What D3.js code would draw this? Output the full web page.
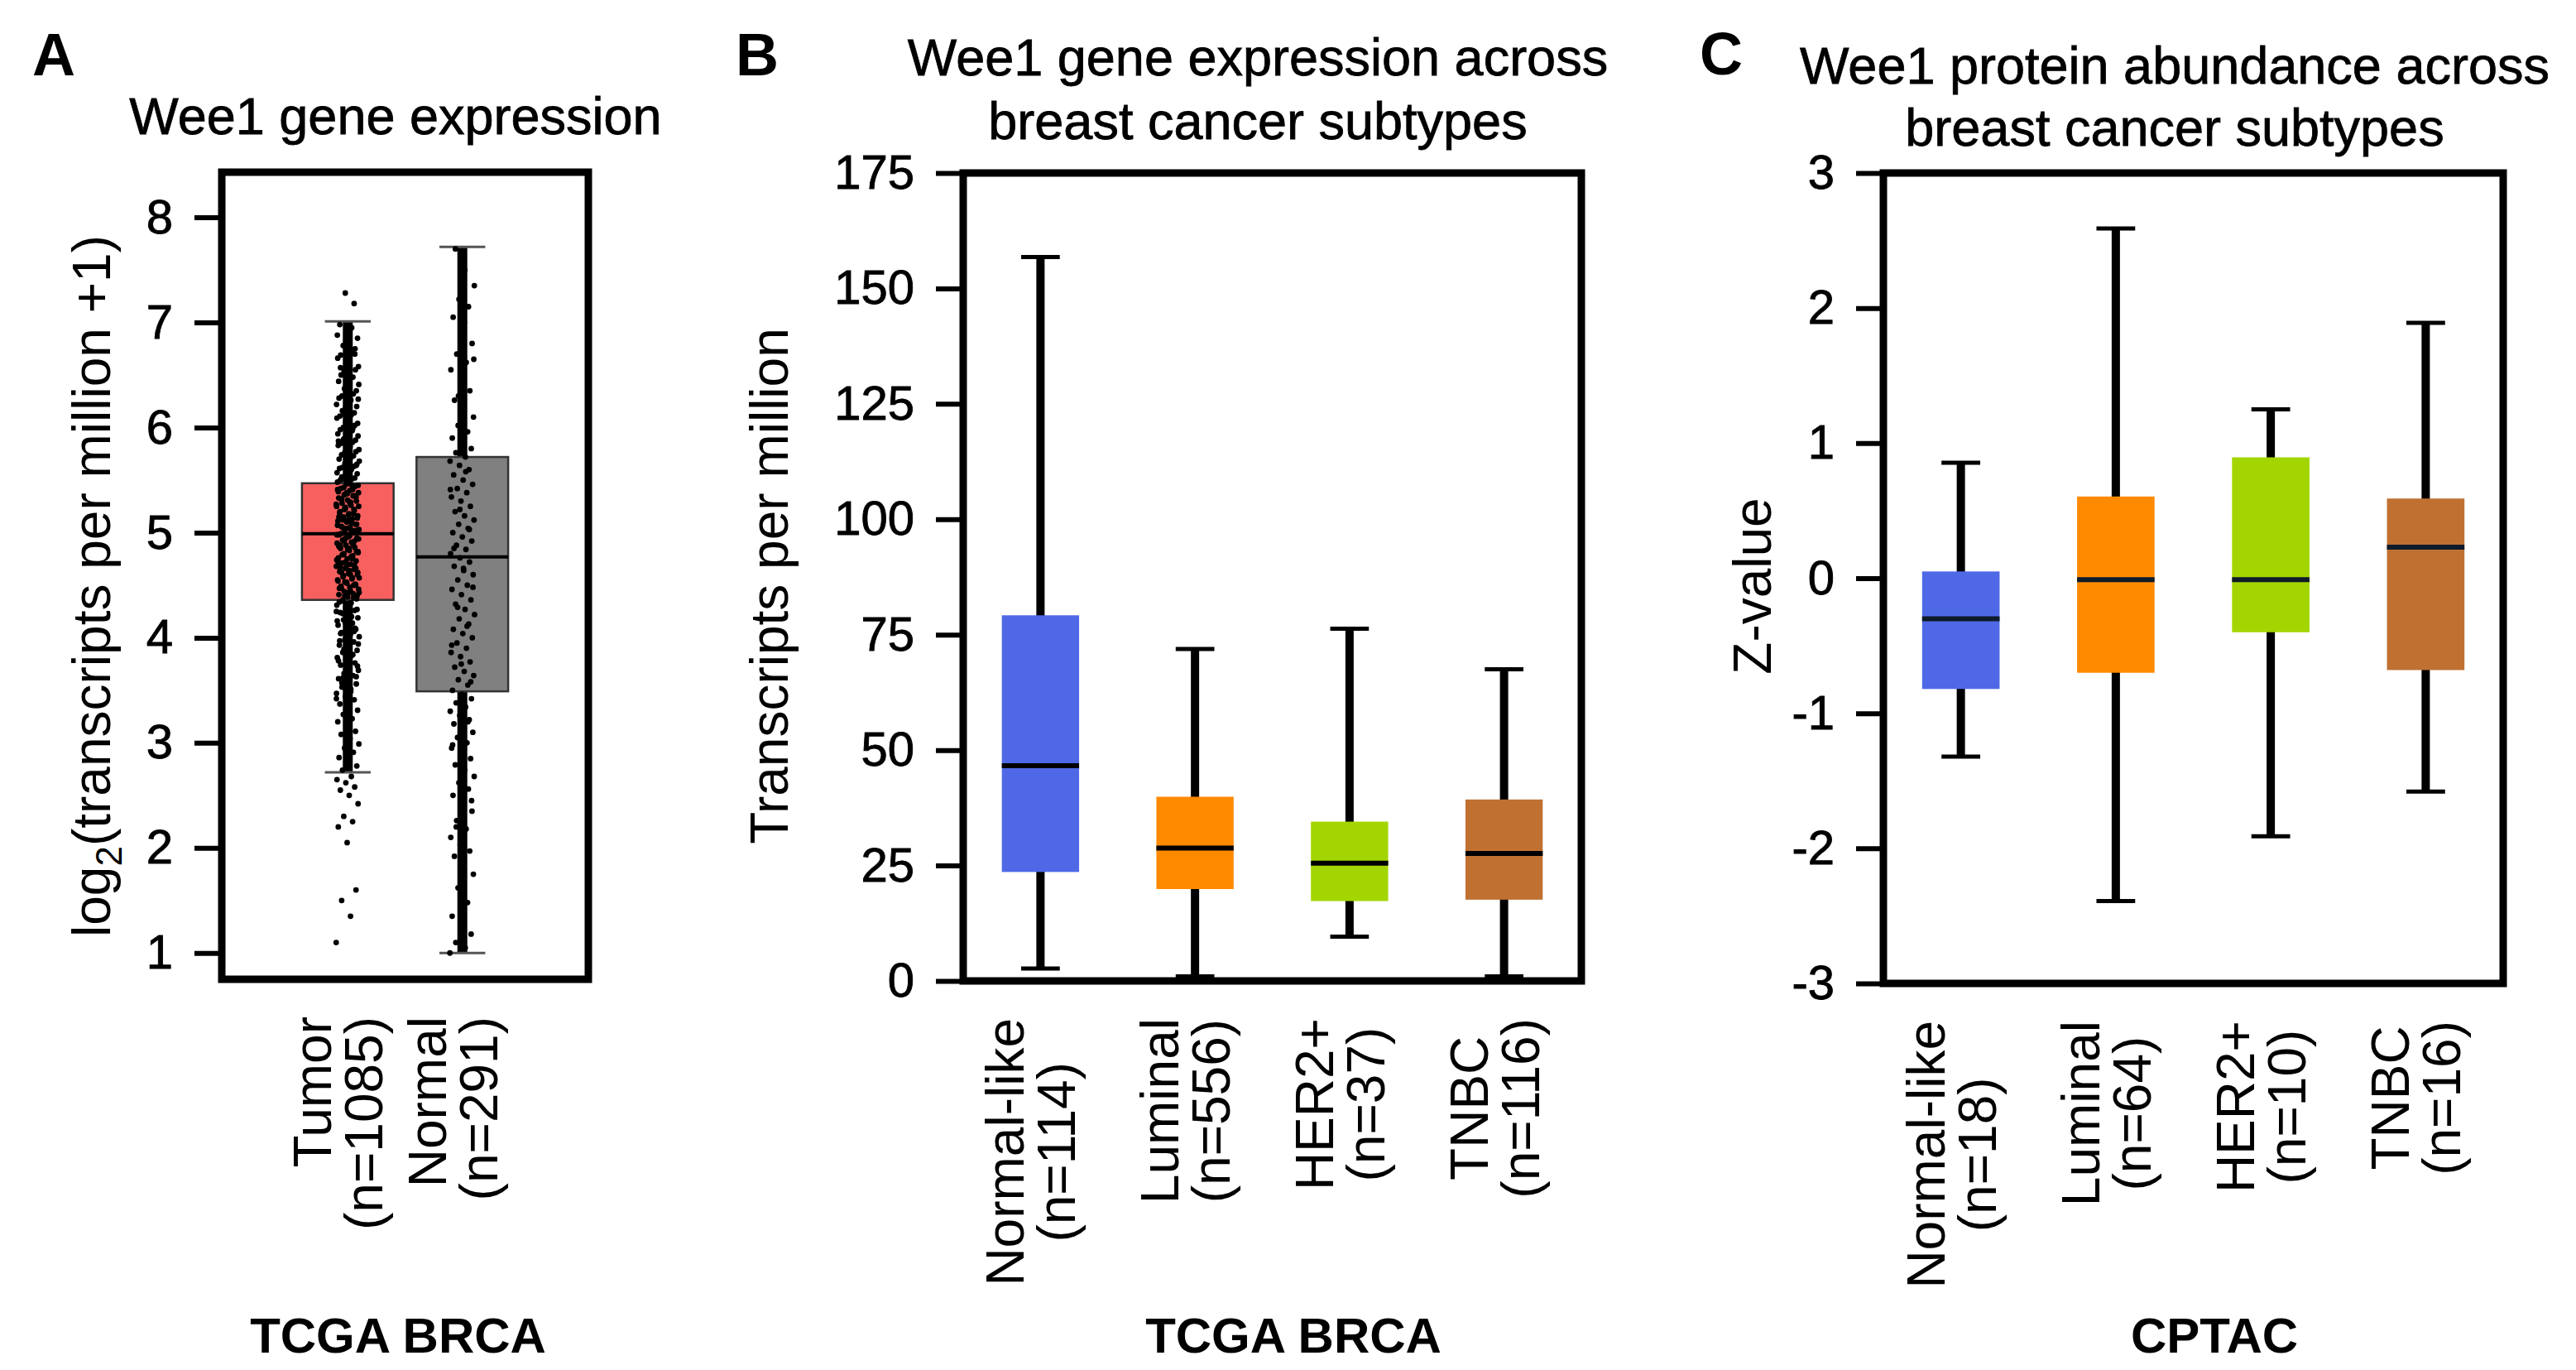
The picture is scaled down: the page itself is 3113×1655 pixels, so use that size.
<!DOCTYPE html>
<html>
<head>
<meta charset="utf-8">
<script src="https://cdn.jsdelivr.net/npm/d3@7"></script>
<style>
body { margin: 0; background: #fff; }
text { font-family: "Liberation Sans", Arial, Helvetica, sans-serif; fill: #000; }
</style>
</head>
<body>
<svg id="chart"></svg>
<script>
// ### Data ###
// panel A : TCGA BRCA tumor vs normal, log2(TPM+1)
var groupsA = ['Tumor', 'Normal'];
var countsA = ['(n=1085)', '(n=291)'];
var lowA  = [2.72, 1.00];
var q1A   = [4.36, 3.49];
var medA  = [4.99, 4.77];
var q3A   = [5.47, 5.72];
var highA = [7.01, 7.72];
var ticksA = [1, 2, 3, 4, 5, 6, 7, 8];

// individual samples
var tumorPoints = [1.1, 1.35, 1.5, 1.6, 2.05, 2.2, 2.25, 2.3, 2.42, 2.5, 2.55, 2.58, 2.62, 2.65, 2.68,
  2.74, 2.78, 2.83, 2.86, 2.91, 2.95, 2.99, 3.04, 3.08, 3.11, 3.16, 3.2, 3.23, 3.27, 3.31, 3.34, 3.37, 3.41, 3.44, 3.47,
  3.51, 3.53, 3.56, 3.59, 3.61, 3.64, 3.66, 3.69, 3.71, 3.74, 3.76, 3.79, 3.81, 3.83, 3.86, 3.88, 3.91, 3.93, 3.96, 3.98,
  4.01, 4.03, 4.05, 4.08, 4.1, 4.12, 4.14, 4.17, 4.19, 4.21, 4.24, 4.26, 4.28, 4.31, 4.33, 4.35,
  4.37, 4.39, 4.41, 4.42, 4.44, 4.46, 4.48, 4.49, 4.51, 4.53, 4.55, 4.56, 4.58, 4.6, 4.61, 4.63, 4.65, 4.66, 4.68, 4.7,
  4.71, 4.73, 4.75, 4.76, 4.78, 4.8, 4.81, 4.83, 4.85, 4.86, 4.88, 4.9, 4.91, 4.93, 4.95, 4.96, 4.98, 5.0, 5.01, 5.03,
  5.05, 5.06, 5.08, 5.1, 5.11, 5.13, 5.15, 5.16, 5.18, 5.2, 5.21, 5.23, 5.25, 5.26, 5.28, 5.3, 5.31, 5.33, 5.35, 5.36,
  5.38, 5.4, 5.42, 5.44, 5.46,
  5.48, 5.51, 5.53, 5.56, 5.58, 5.61, 5.63, 5.66, 5.68, 5.71, 5.74, 5.77, 5.8, 5.83, 5.86, 5.89, 5.92, 5.95, 5.98, 6.02,
  6.05, 6.09, 6.12, 6.16, 6.2, 6.24, 6.28, 6.32, 6.37, 6.41, 6.46, 6.5, 6.55, 6.6, 6.66, 6.72, 6.78, 6.85, 6.92, 6.98,
  7.18, 7.28,
  3.42, 3.49, 3.57, 3.63, 3.7, 3.78, 3.84, 3.89, 3.94, 3.99, 4.04, 4.09, 4.13, 4.16, 4.2, 4.23, 4.27, 4.3, 4.34, 4.38,
  4.4, 4.43, 4.45, 4.47, 4.5, 4.52, 4.54, 4.57, 4.59, 4.62, 4.64, 4.67, 4.69, 4.72, 4.74, 4.77, 4.79, 4.82, 4.84, 4.87,
  4.89, 4.92, 4.94, 4.97, 4.99, 5.02, 5.04, 5.07, 5.09, 5.12, 5.14, 5.17, 5.19, 5.22, 5.24, 5.27, 5.29, 5.32, 5.34, 5.37,
  5.39, 5.41, 5.43, 5.45, 5.47, 5.5, 5.52, 5.55, 5.57, 5.6, 5.62, 5.65, 5.67, 5.7, 5.73, 5.76, 5.79, 5.82, 5.85, 5.88,
  5.91, 5.94, 5.97, 6.0, 6.04, 6.07, 6.11, 6.14, 6.18, 6.22, 6.26, 6.3, 6.35, 6.39, 6.44, 6.48, 6.53, 6.58, 6.63, 6.69,
  6.75, 6.81, 6.88, 6.95,
  4.36, 4.4, 4.43, 4.47, 4.5, 4.53, 4.57, 4.6, 4.62, 4.66, 4.69, 4.72, 4.75, 4.79, 4.82, 4.85, 4.88, 4.92, 4.95, 4.98,
  5.02, 5.05, 5.08, 5.12, 5.15, 5.18, 5.22, 5.25, 5.28, 5.32, 5.35, 5.38, 5.41, 5.45, 3.62, 3.73, 3.85, 3.97, 4.06, 4.15,
  4.25, 4.33, 5.53, 5.64, 5.75, 5.87, 5.99, 6.13, 6.27, 6.42, 6.57, 6.7, 6.84];
var normalPoints = [1.0, 1.05, 1.1, 1.18, 1.25, 1.35, 1.48, 1.62, 1.75, 1.88, 1.92, 1.97, 2.03, 2.1, 2.18, 2.26, 2.35,
  2.42, 2.5, 2.56, 2.62, 2.68, 2.74, 2.79, 2.85, 2.9, 2.95, 3.0, 3.05, 3.1, 3.14, 3.18, 3.22, 3.26, 3.3, 3.34, 3.38,
  3.42, 3.46, 3.5, 3.55, 3.6, 3.64, 3.68, 3.72, 3.77, 3.82, 3.86, 3.9, 3.95, 4.0, 4.04, 4.08, 4.13, 4.18, 4.22, 4.27,
  4.32, 4.36, 4.41, 4.46, 4.5, 4.55, 4.6, 4.64, 4.68, 4.72, 4.76, 4.8, 4.84, 4.88, 4.92, 4.96, 5.0, 5.04, 5.08, 5.12,
  5.16, 5.2, 5.25, 5.3, 5.34, 5.38, 5.42, 5.46, 5.5, 5.55, 5.6, 5.64, 5.68, 5.72, 5.76, 5.8, 5.85, 5.9, 5.96, 6.02,
  6.1, 6.18, 6.26, 6.35, 6.45, 6.55, 6.62, 6.7, 6.8, 6.92, 7.05, 7.15, 7.22, 7.35, 7.5, 7.7,
  3.58, 3.75, 3.93, 4.11, 4.29, 4.48, 4.66, 4.85, 5.03, 5.22, 5.41, 5.58, 2.2, 2.45, 2.7, 2.98, 3.2, 6.3, 6.65, 7.0];

// panels B and C : subtypes
var subtypes = ['Normal-like', 'Luminal', 'HER2+', 'TNBC'];
var subtypeColors = ['#4f69e6', '#ff8a00', '#a3d600', '#c07031'];

var countsB = ['(n=114)', '(n=556)', '(n=37)', '(n=116)'];
var lowB  = [2.7, 1.0, 9.6, 1.0];
var q1B   = [23.6, 19.9, 17.3, 17.6];
var medB  = [46.6, 28.8, 25.5, 27.6];
var q3B   = [79.2, 39.9, 34.5, 39.3];
var highB = [156.8, 71.9, 76.3, 67.5];
var ticksB = [0, 25, 50, 75, 100, 125, 150, 175];

var countsC = ['(n=18)', '(n=64)', '(n=10)', '(n=16)'];
var lowC  = [-1.32, -2.39, -1.91, -1.58];
var q1C   = [-0.82, -0.70, -0.40, -0.68];
var medC  = [-0.30, -0.01, -0.01, 0.23];
var q3C   = [0.05, 0.605, 0.895, 0.59];
var highC = [0.855, 2.59, 1.25, 1.89];
var ticksC = [-3, -2, -1, 0, 1, 2, 3];

// ### Canvas ###
var width = 3113, height = 1655;
var FONT = '"Liberation Sans", Arial, Helvetica, sans-serif';
var svg = d3.select('#chart').attr('width', width).attr('height', height);
svg.append('rect').attr('width', width).attr('height', height).attr('fill', '#fff');

// ### Helpers ###
function drawYAxis(box, y, ticks) {
  var g = svg.append('g')
    .attr('transform', `translate(${box.left},0)`)
    .call(d3.axisLeft(y).tickValues(ticks).tickSize(33).tickPadding(26).tickFormat(d => String(d)));
  g.attr('font-size', 58).attr('font-family', FONT);
  g.select('.domain').remove();
  g.selectAll('.tick line').attr('stroke', '#000').attr('stroke-width', 6);
  g.selectAll('.tick text').attr('fill', '#000').attr('stroke', '#000').attr('stroke-width', 0.9);
}

function drawFrame(box) {
  svg.append('rect')
    .attr('x', box.left).attr('y', box.top)
    .attr('width', box.right - box.left).attr('height', box.bottom - box.top)
    .attr('fill', 'none').attr('stroke', '#000').attr('stroke-width', 9);
}

function drawText(p) {
  // panel letter
  svg.append('text').attr('x', p.letter[0]).attr('y', p.letter[1])
    .attr('font-size', 72).attr('font-weight', 'bold').text(p.name);
  // title
  svg.selectAll(null).data(p.title).enter().append('text')
    .attr('x', p.titleX).attr('y', (d, i) => p.titleY[i])
    .attr('text-anchor', 'middle').attr('font-size', 63)
    .attr('stroke', '#000').attr('stroke-width', 0.8)
    .text(d => d);
  // footer
  svg.append('text').attr('x', p.footerX).attr('y', 1634)
    .attr('text-anchor', 'middle').attr('font-size', 60).attr('font-weight', 'bold').text(p.footer);
}

// two-line rotated category labels
function drawXLabels(x, names, counts, top, centered) {
  names.forEach(function(name, i) {
    var g = svg.append('g').attr('transform', `translate(${x(name)},${top}) rotate(-90)`);
    var lines = [name, counts[i]];
    var t = g.selectAll('text').data(lines).enter().append('text')
      .attr('y', (d, j) => j === 0 ? -20 : 42)
      .attr('font-size', 64)
      .text(d => d);
    if (centered) {
      var L = d3.max(t.nodes(), n => n.getComputedTextLength());
      t.attr('x', -L / 2).attr('text-anchor', 'middle');
    } else {
      t.attr('x', 0).attr('text-anchor', 'end');
    }
  });
}

function drawYLabel(bx, cy, fn) {
  var t = svg.append('text')
    .attr('transform', `translate(${bx},${cy}) rotate(-90)`)
    .attr('text-anchor', 'middle').attr('font-size', 64);
  fn(t);
}

// ### Panel A ###
var boxA = {left: 268, right: 711, top: 208, bottom: 1183};
var yA = d3.scaleLinear().domain([0.75, 8.43]).range([boxA.bottom, boxA.top]);
var xA = d3.scalePoint().domain(groupsA).range([boxA.left, boxA.right]).padding(1.1);
var stepA = xA.step();
var fillA = ['#f8605f', '#808080'];
var pointSets = [tumorPoints, normalPoints];
var jitterA = [28, 30];

groupsA.forEach(function(gname, i) {
  var cx = xA(gname);
  // dense whisker strip
  svg.append('line')
    .attr('x1', cx).attr('x2', cx)
    .attr('y1', yA(lowA[i])).attr('y2', yA(highA[i]))
    .attr('stroke', '#000').attr('stroke-width', 12);
  svg.append('rect')
    .attr('x', cx - stepA * 0.4).attr('width', stepA * 0.8)
    .attr('y', yA(q3A[i])).attr('height', yA(q1A[i]) - yA(q3A[i]))
    .attr('fill', fillA[i]).attr('stroke', '#333').attr('stroke-width', 2.5);
  svg.append('line')
    .attr('x1', cx - stepA * 0.4).attr('x2', cx + stepA * 0.4)
    .attr('y1', yA(medA[i])).attr('y2', yA(medA[i]))
    .attr('stroke', '#000').attr('stroke-width', 4);
  svg.selectAll(null).data([lowA[i], highA[i]]).enter().append('line')
    .attr('x1', cx - stepA * 0.2).attr('x2', cx + stepA * 0.2)
    .attr('y1', d => yA(d)).attr('y2', d => yA(d))
    .attr('stroke', '#555').attr('stroke-width', 3);
  svg.selectAll(null).data(pointSets[i]).enter().append('circle')
    .attr('cx', (d, j) => cx + (((j * 0.6180339) % 1) - 0.5) * jitterA[i])
    .attr('cy', d => yA(d))
    .attr('r', 3.4)
    .attr('fill', '#000');
});
drawYAxis(boxA, yA, ticksA);
drawFrame(boxA);
drawXLabels(xA, groupsA, countsA, 1228, false);
drawYLabel(133, 708, function(t) {
  t.append('tspan').text('log');
  t.append('tspan').attr('font-size', 44).attr('dy', 14).text('2');
  t.append('tspan').attr('dy', -14).text('(transcripts per million +1)');
});
drawText({name: 'A', letter: [39, 91], title: ['Wee1 gene expression'], titleX: 478, titleY: [162],
  footer: 'TCGA BRCA', footerX: 481});

// ### Panels B and C ###
function subtypePanel(box, y, low, q1, med, q3, high, medColor) {
  var x = d3.scaleBand().domain(subtypes).range([box.left, box.right]).padding(0);
  var bw = x.bandwidth();
  subtypes.forEach(function(s, i) {
    var cx = x(s) + bw / 2;
    svg.append('line')
      .attr('x1', cx).attr('x2', cx)
      .attr('y1', y(low[i])).attr('y2', y(high[i]))
      .attr('stroke', '#000').attr('stroke-width', 10);
    svg.selectAll(null).data([low[i], high[i]]).enter().append('line')
      .attr('x1', cx - bw * 0.125).attr('x2', cx + bw * 0.125)
      .attr('y1', d => y(d)).attr('y2', d => y(d))
      .attr('stroke', '#000').attr('stroke-width', 5);
    svg.append('rect')
      .attr('x', cx - bw * 0.25).attr('width', bw * 0.5)
      .attr('y', y(q3[i])).attr('height', y(q1[i]) - y(q3[i]))
      .attr('fill', subtypeColors[i]);
    svg.append('line')
      .attr('x1', cx - bw * 0.25).attr('x2', cx + bw * 0.25)
      .attr('y1', y(med[i])).attr('y2', y(med[i]))
      .attr('stroke', medColor).attr('stroke-width', 6);
  });
  // center-of-band accessor for labels
  return d => x(d) + bw / 2;
}

var boxB = {left: 1164, right: 1911, top: 209, bottom: 1185};
var yB = d3.scaleLinear().domain([0, 175]).range([boxB.bottom, boxB.top]);
var xB = subtypePanel(boxB, yB, lowB, q1B, medB, q3B, highB, '#000');
drawYAxis(boxB, yB, ticksB);
drawFrame(boxB);
drawXLabels(xB, subtypes, countsB, 1230, true);
drawYLabel(952, 708, t => t.text('Transcripts per million'));
drawText({name: 'B', letter: [889, 91], title: ['Wee1 gene expression across', 'breast cancer subtypes'],
  titleX: 1520, titleY: [91, 168], footer: 'TCGA BRCA', footerX: 1563});

var boxC = {left: 2276, right: 3025, top: 209, bottom: 1188};
var yC = d3.scaleLinear().domain([-3, 3]).range([boxC.bottom, boxC.top]);
var xC = subtypePanel(boxC, yC, lowC, q1C, medC, q3C, highC, '#0d1b2a');
drawYAxis(boxC, yC, ticksC);
drawFrame(boxC);
drawXLabels(xC, subtypes, countsC, 1233, true);
drawYLabel(2140, 708, t => t.text('Z-value'));
drawText({name: 'C', letter: [2054, 90], title: ['Wee1 protein abundance across', 'breast cancer subtypes'],
  titleX: 2628, titleY: [101, 176], footer: 'CPTAC', footerX: 2676});
</script>
</body>
</html>
